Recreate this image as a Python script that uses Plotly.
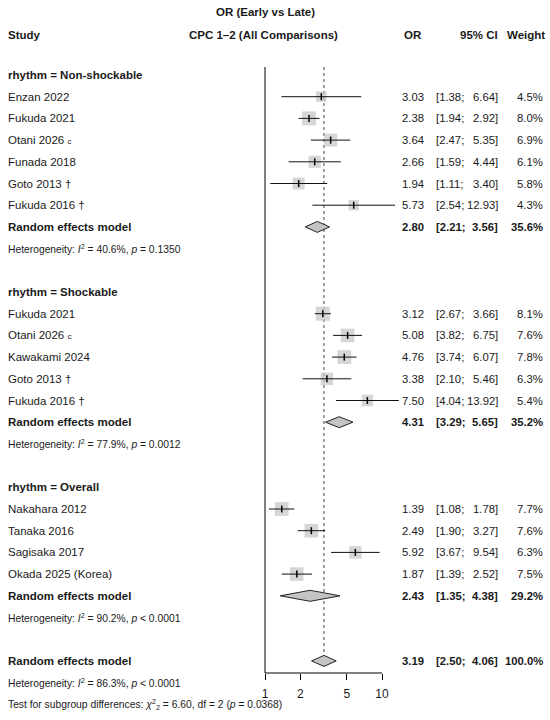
import math
import plotly.graph_objects as go

# ---------------- data ----------------
groups = ["Non-shockable", "Shockable", "Overall"]

study_group = [0, 0, 0, 0, 0, 0,
               1, 1, 1, 1, 1,
               2, 2, 2, 2]
study_names = ["Enzan 2022", "Fukuda 2021", "Otani 2026", "Funada 2018", "Goto 2013", "Fukuda 2016",
               "Fukuda 2021", "Otani 2026", "Kawakami 2024", "Goto 2013", "Fukuda 2016",
               "Nakahara 2012", "Tanaka 2016", "Sagisaka 2017", "Okada 2025 (Korea)"]
study_notes = ["", "", "c", "", "†", "†",
               "", "c", "", "†", "†",
               "", "", "", ""]
study_or = [3.03, 2.38, 3.64, 2.66, 1.94, 5.73,
            3.12, 5.08, 4.76, 3.38, 7.50,
            1.39, 2.49, 5.92, 1.87]
study_lo = [1.38, 1.94, 2.47, 1.59, 1.11, 2.54,
            2.67, 3.82, 3.74, 2.10, 4.04,
            1.08, 1.90, 3.67, 1.39]
study_hi = [6.64, 2.92, 5.35, 4.44, 3.40, 12.93,
            3.66, 6.75, 6.07, 5.46, 13.92,
            1.78, 3.27, 9.54, 2.52]
study_w = [4.5, 8.0, 6.9, 6.1, 5.8, 4.3,
           8.1, 7.6, 7.8, 6.3, 5.4,
           7.7, 7.6, 6.3, 7.5]

re_or = [2.80, 4.31, 2.43]
re_lo = [2.21, 3.29, 1.35]
re_hi = [3.56, 5.65, 4.38]
re_w = [35.6, 35.2, 29.2]
het_i2 = [40.6, 77.9, 90.2]
het_p = ["= 0.1350", "= 0.0012", "< 0.0001"]

total_or, total_lo, total_hi, total_w = 3.19, 2.50, 4.06, 100.0
total_i2, total_p = 86.3, "< 0.0001"
test_chi2, test_df, test_p = 6.60, 2, 0.0368

tick_vals = [1, 2, 5, 10]
tick_text = ["1", "2", "5", "10"]

# ---------------- layout helpers ----------------
W, H = 550, 720
ROW0_PX, ROW_PX = 75.0, 21.7   # page pixels of first row / row spacing
X1_PX, DEC_PX = 265.0, 117.0   # page pixel of OR=1, pixels per decade
AXIS_PX = 673.0

def prow(py):
    """page y pixel -> row units"""
    return (py - ROW0_PX) / ROW_PX

def px(xp):
    """page x pixel -> paper fraction"""
    return xp / W

FONT = "Liberation Sans, Arial, sans-serif"
TXT = "#1a1a1a"
FS = 11.5
NFS = 11.3
HFS = 10.3

# assign rows
rows_study = []
rows_group_hdr, rows_re, rows_het = [], [], []
r = 0
for g in range(len(groups)):
    rows_group_hdr.append(r)
    r += 1
    for i, sg in enumerate(study_group):
        if sg == g:
            rows_study.append(r)
            r += 1
    rows_re.append(r)
    r += 1
    rows_het.append(r)
    r += 2
row_total = r
row_total_het = r + 1
row_test = r + 2

fig = go.Figure()

# null line (OR = 1) and dotted overall line
fig.add_trace(go.Scatter(x=[1, 1], y=[prow(67), prow(AXIS_PX)], mode="lines",
                         line=dict(color="black", width=1), hoverinfo="skip", showlegend=False))
diam_h = 5.5 / ROW_PX
fig.add_trace(go.Scatter(x=[total_or, total_or], y=[prow(67), row_total - diam_h], mode="lines",
                         line=dict(color="#444444", width=1, dash="dot"), hoverinfo="skip", showlegend=False))

# x axis line
fig.add_trace(go.Scatter(x=[tick_vals[0], tick_vals[-1]], y=[prow(AXIS_PX)] * 2, mode="lines",
                         line=dict(color="black", width=1), hoverinfo="skip", showlegend=False))

# squares
fig.add_trace(go.Scatter(x=study_or, y=rows_study, mode="markers",
                         marker=dict(symbol="square", color="#c4c4c4",
                                     size=[4.95 * math.sqrt(w) for w in study_w], line=dict(width=0)),
                         hoverinfo="skip", showlegend=False))
# CI lines
cx, cy = [], []
for lo, hi, yy in zip(study_lo, study_hi, rows_study):
    cx += [lo, hi, None]
    cy += [yy, yy, None]
fig.add_trace(go.Scatter(x=cx, y=cy, mode="lines", line=dict(color="#111111", width=1),
                         hoverinfo="skip", showlegend=False))
# point ticks
fig.add_trace(go.Scatter(x=study_or, y=rows_study, mode="markers",
                         marker=dict(symbol="line-ns", size=5, line=dict(color="black", width=1.5)),
                         hoverinfo="skip", showlegend=False))

# diamonds
def diamond(est, lo, hi, yy):
    fig.add_trace(go.Scatter(x=[lo, est, hi, est, lo], y=[yy, yy - diam_h, yy, yy + diam_h, yy],
                             mode="lines", fill="toself", fillcolor="#c4c4c4",
                             line=dict(color="#222222", width=1), hoverinfo="skip", showlegend=False))

for g in range(len(groups)):
    diamond(re_or[g], re_lo[g], re_hi[g], rows_re[g])
diamond(total_or, total_lo, total_hi, row_total)

# ---------------- text ----------------
ann = []

def text(x_px, y, s, anchor="left", bold=False, size=FS):
    if bold:
        s = "<b>" + s + "</b>"
    ann.append(dict(x=px(x_px), y=y, xref="paper", yref="y", text=s, showarrow=False,
                    xanchor=anchor, yanchor="middle",
                    font=dict(family=FONT, size=size, color=TXT)))

def stats(y, est, lo, hi, w, bold=False):
    text(426, y, f"{est:.2f}", "right", bold, NFS)
    text(434, y, f"[{lo:.2f};", "left", bold, NFS)
    text(500, y, f"{hi:.2f}]", "right", bold, NFS)
    text(545, y, f"{w:.1f}%", "right", bold, NFS)

# header
text(265, prow(12), "OR (Early vs Late)", "center", True)
text(6, prow(35), "Study", "left", True)
text(263, prow(35), "CPC 1–2 (All Comparisons)", "center", True)
text(424, prow(35), "OR", "right", True)
text(500, prow(35), "95% CI", "right", True)
text(547, prow(35), "Weight", "right", True)

def het_text(i2, p):
    return f"Heterogeneity: <i>I</i><sup>2</sup> = {i2:.1f}%, <i>p</i> {p}"

for g in range(len(groups)):
    text(6, rows_group_hdr[g], f"rhythm = {groups[g]}", "left", True)
    text(6, rows_re[g], "Random effects model", "left", True)
    stats(rows_re[g], re_or[g], re_lo[g], re_hi[g], re_w[g], True)
    text(6, rows_het[g], het_text(het_i2[g], het_p[g]), "left", False, HFS)

for i in range(len(study_names)):
    note = study_notes[i]
    name = study_names[i]
    if note == "c":
        name += " <span style='font-size:8px'>c</span>"
    elif note:
        name += " " + note
    text(6, rows_study[i], name)
    stats(rows_study[i], study_or[i], study_lo[i], study_hi[i], study_w[i])

text(6, row_total, "Random effects model", "left", True)
stats(row_total, total_or, total_lo, total_hi, total_w, True)
text(6, row_total_het, het_text(total_i2, total_p), "left", False, HFS)
text(6, row_test,
     f"Test for subgroup differences: <i>χ</i><sup>2</sup><sub>{test_df}</sub> = {test_chi2:.2f}, "
     f"df = {test_df} (<i>p</i> = {test_p:.4f})", "left", False, HFS)

# x range so that OR=1 sits at page x X1_PX
left_log = -X1_PX / DEC_PX
right_log = (W - X1_PX) / DEC_PX

fig.update_layout(
    width=W, height=H, margin=dict(l=0, r=0, t=0, b=0),
    paper_bgcolor="white", plot_bgcolor="white",
    showlegend=False, annotations=ann,
    font=dict(family=FONT, color=TXT),
    xaxis=dict(type="log", range=[left_log, right_log], domain=[0, 1],
               tickvals=tick_vals, ticktext=tick_text, ticks="outside", ticklen=6,
               tickcolor="black", tickwidth=1, showline=False, showgrid=False, zeroline=False,
               anchor="free", position=(H - AXIS_PX) / H, ticklabelstandoff=4,
               tickfont=dict(size=12, family=FONT, color=TXT), fixedrange=True),
    yaxis=dict(range=[prow(H), prow(0)], domain=[0, 1], visible=False, fixedrange=True),
)

# remove the default page margin so the figure fills the 550x720 window exactly
fig.write_html("out.html", config={"displayModeBar": False},
               post_script="document.body.style.margin='0';document.body.style.overflow='hidden';")
